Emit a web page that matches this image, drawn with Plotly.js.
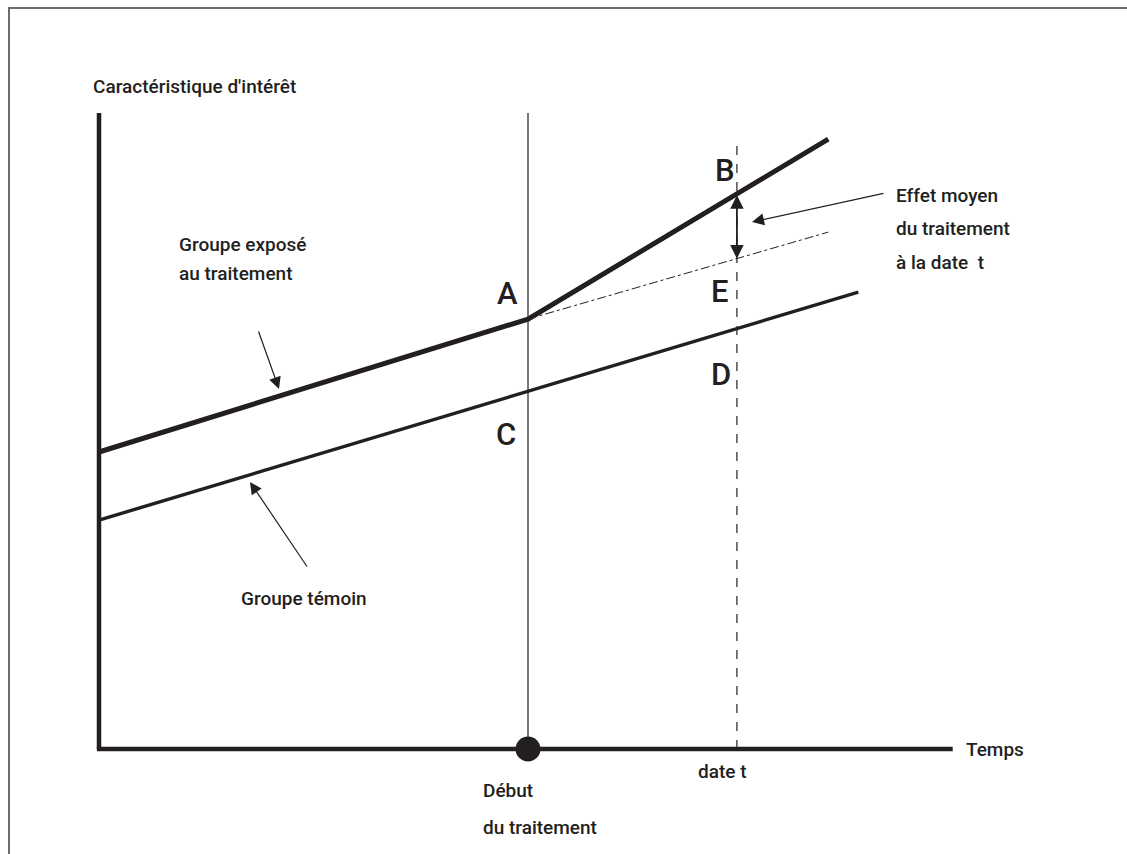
<!DOCTYPE html>
<html>
<head>
<meta charset="utf-8">
<script src="https://cdn.plot.ly/plotly-3.0.1.min.js"></script>
<style>html,body{margin:0;padding:0;background:#fff;}#chart{width:1127px;height:854px;}</style>
</head>
<body>
<div id="chart"></div>
<script>
// ---- data (schematic units: time, characteristic) ----
var treatTime = [0, 10, 17.0];
var treatValue = [9.9, 14.33, 20.33];
var controlTime = [0, 17.7];
var controlValue = [7.63, 15.23];
var counterTime = [10, 17.0];
var counterValue = [14.33, 17.23];
var startTime = 10;      // Début du traitement
var dateT = 14.87;       // date t
var axisTopValue = 21.2;
var axisEndTime = 19.9;
var dashTopValue = 20.4;
var pointLabels = ['A', 'B', 'C', 'D', 'E'];

function interp(xs, ys, x) {
  for (var i = 0; i < xs.length - 1; i++) {
    if (x >= xs[i] && x <= xs[i + 1]) {
      return ys[i] + (ys[i + 1] - ys[i]) * (x - xs[i]) / (xs[i + 1] - xs[i]);
    }
  }
  return ys[ys.length - 1];
}
var valB = interp(treatTime, treatValue, dateT);
var valE = interp(counterTime, counterValue, dateT);

var W = 1127, H = 854;
function P(px, py) { return {x: px / W, y: 1 - py / H}; }

var FONT = 'Roboto, "Noto Sans", sans-serif';
var INK = '#231f20';

var traces = [
  {x: treatTime, y: treatValue, mode: 'lines', line: {color: INK, width: 5}, hoverinfo: 'skip'},
  {x: controlTime, y: controlValue, mode: 'lines', line: {color: INK, width: 3.4}, hoverinfo: 'skip'},
  {x: counterTime, y: counterValue, mode: 'lines', line: {color: INK, width: 1, dash: 'dashdot'}, hoverinfo: 'skip'},
  {x: [startTime], y: [0], mode: 'markers', marker: {color: INK, size: 25}, hoverinfo: 'skip'}
];

var shapes = [
  // frame
  {type: 'line', xref: 'paper', yref: 'paper', x0: 8 / W, x1: 1, y0: 1 - 8 / H, y1: 1 - 8 / H, line: {color: '#6b6b6b', width: 2}},
  {type: 'line', xref: 'paper', yref: 'paper', x0: 9 / W, x1: 9 / W, y0: 0, y1: 1 - 8 / H, line: {color: '#6b6b6b', width: 2}},
  // axes
  {type: 'line', x0: 0, x1: 0, y0: 0, y1: axisTopValue, line: {color: INK, width: 4.5}, layer: 'below'},
  {type: 'line', x0: -0.05, x1: axisEndTime, y0: 0, y1: 0, line: {color: INK, width: 4.5}, layer: 'below'},
  // treatment start line
  {type: 'line', x0: startTime, x1: startTime, y0: 0, y1: axisTopValue, line: {color: INK, width: 1.2}, layer: 'below'},
  // date t line
  {type: 'line', x0: dateT, x1: dateT, y0: 0, y1: dashTopValue, line: {color: INK, width: 1.2, dash: 'dash'}, layer: 'below'}
];

function txt(text, px, py, size, xanchor) {
  var p = P(px, py);
  return {text: text, xref: 'paper', yref: 'paper', x: p.x, y: p.y, xanchor: xanchor || 'left', yanchor: 'middle',
    showarrow: false, font: {family: FONT, size: size, color: INK, weight: 500}};
}
function tx(px) { return (px - 99) / 42.9; }
function vy(py) { return (749 - py) / 30; }
function arrow(tailPx, tailPy, tipPx, tipPy) {
  return {text: '', x: tx(tipPx), y: vy(tipPy), ax: tx(tailPx), ay: vy(tailPy), xref: 'x', yref: 'y', axref: 'x', ayref: 'y',
    showarrow: true, arrowhead: 2, arrowsize: 2, arrowwidth: 1.2, arrowcolor: INK, standoff: 0, startstandoff: 0};
}

var BODY = 19, BIG = 31;
var annotations = [
  txt("Caractéristique d'intérêt", 91, 86, BODY),
  txt('Groupe exposé', 177, 244, BODY),
  txt('au traitement', 177, 273, BODY),
  txt('Groupe témoin', 239, 598, BODY),
  txt('Effet moyen', 894, 195, BODY),
  txt('du traitement', 894, 229, BODY),
  txt('à la date  t', 894, 262, BODY),
  txt('Temps', 964, 749, BODY),
  txt('date t', 696, 771, BODY),
  txt('Début', 481, 790, BODY),
  txt('du traitement', 481, 827, BODY),
  txt(pointLabels[0], 507, 294, BIG, 'center'),
  txt(pointLabels[1], 725, 170, BIG, 'center'),
  txt(pointLabels[2], 506, 434, BIG, 'center'),
  txt(pointLabels[3], 721, 375, BIG, 'center'),
  txt(pointLabels[4], 720, 292, BIG, 'center'),
  arrow(258, 330, 279, 389),
  arrow(308, 568, 250, 482),
  arrow(885, 193, 752, 222),
  {text: '', x: dateT, y: valE, ax: dateT, ay: valB, xref: 'x', yref: 'y', axref: 'x', ayref: 'y',
    showarrow: true, arrowhead: 2, arrowside: 'end+start', arrowsize: 1.5, arrowwidth: 1.8, arrowcolor: INK, standoff: 0, startstandoff: 0}
];

var layout = {
  width: W, height: H,
  margin: {l: 0, r: 0, t: 0, b: 0},
  paper_bgcolor: '#fff', plot_bgcolor: '#fff',
  showlegend: false,
  xaxis: {range: [tx(0), tx(W)], visible: false, fixedrange: true},
  yaxis: {range: [vy(H), vy(0)], visible: false, fixedrange: true},
  shapes: shapes,
  annotations: annotations
};

Plotly.newPlot('chart', traces, layout, {displayModeBar: false, staticPlot: true});
</script>
</body>
</html>
